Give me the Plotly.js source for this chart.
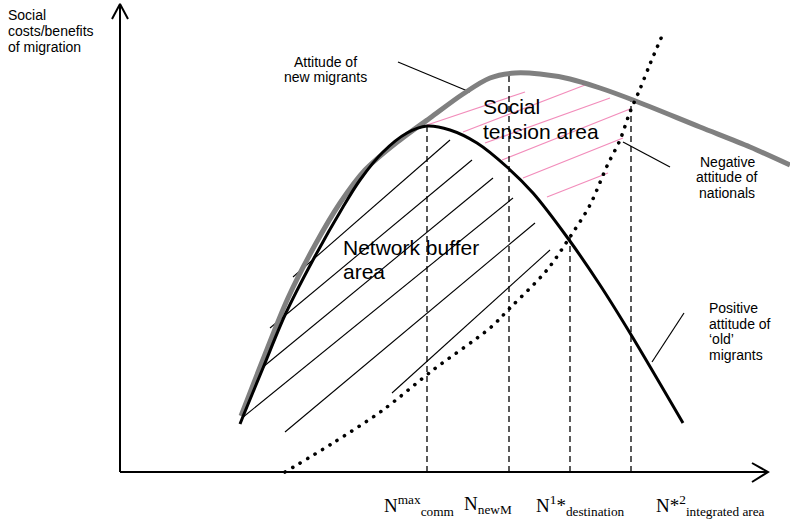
<!DOCTYPE html>
<html>
<head>
<meta charset="utf-8">
<script src="https://cdn.plot.ly/plotly-3.0.1.min.js"></script>
<style>
  html, body { margin: 0; padding: 0; background: #fff; }
  #chart { width: 790px; height: 526px; }
</style>
</head>
<body>
<div id="chart"></div>
<script>
// ---- Data (diagram units: x to the right of the origin, y above the origin) ----
// Attitude of new migrants (grey curve)
const newMigrantsX = [121, 142, 168, 195, 220, 245, 280, 310, 343, 370, 395, 420, 450, 480, 513, 580, 630, 670];
const newMigrantsY = [56, 110, 174, 227, 269, 302, 332, 354, 378, 394, 399, 398, 393, 384, 372, 345, 325, 307];

// Positive attitude of 'old' migrants (black curve)
const oldMigrantsX = [120, 124, 143, 165, 193, 223, 240, 263, 287, 307, 330, 357, 387, 413, 447, 480, 510, 563];
const oldMigrantsY = [48, 58, 104, 157, 212, 265, 292, 320, 339, 346, 342, 329, 305, 279, 235, 187, 139, 49];

// Negative attitude of nationals (dotted curve)
const nationalsX = [165, 213, 263, 313, 370, 390, 427, 450, 470, 487, 500, 510, 520, 530, 542];
const nationalsY = [0, 29, 62, 102, 144, 164, 202, 235, 267, 306, 332, 360, 383, 408, 436];

// Vertical reference lines (N^max_comm, N_newM, N1*_destination, N*2_integrated area)
const refX = [307, 389, 450, 511];
const refTop = [346, 399, 235, 372];

// Network buffer area hatching (black)
const bufferX0 = [173, 150, 143, 122, 165, 272];
const bufferY0 = [195, 144, 105, 54, 40, 79];
const bufferX1 = [330, 352, 373, 393, 415, 430];
const bufferY1 = [332, 312, 294, 274, 249, 222];

// Social tension area hatching (pink)
const tensionX0 = [307, 343, 365, 382, 403, 427];
const tensionY0 = [347, 340, 329, 312, 294, 275];
const tensionX1 = [405, 465, 490, 510, 503, 488];
const tensionY1 = [380, 387, 374, 363, 334, 299];

// Label leader lines
const leaderX0 = [278, 503, 532];
const leaderY0 = [410, 330, 110];
const leaderX1 = [350, 550, 564];
const leaderY1 = [380, 305, 159];

// Axes with open arrow heads
const yAxisX = [0, 0];
const yAxisY = [0, 468];
const yArrowX = [-8, 0, 8];
const yArrowY = [453, 468, 453];
const xAxisX = [0, 648];
const xAxisY = [0, 0];
const xArrowX = [632, 648, 632];
const xArrowY = [9, 0, -10];

// Text
const xTickLabels = ['N<sup>max</sup><sub>comm</sub>', 'N<sub>newM</sub>', 'N<sup>1</sup>*<sub>destination</sub>', 'N*<sup>2</sup><sub>integrated area</sub>'];
const xTickPos = [299, 368, 460, 590];
const yTitleLines = ['Social', 'costs/benefits', 'of migration'];

// ---- helpers ----
function segments(x0, y0, x1, y1) {
  const xs = [], ys = [];
  for (let i = 0; i < x0.length; i++) {
    xs.push(x0[i], x1[i], null);
    ys.push(y0[i], y1[i], null);
  }
  return { x: xs, y: ys };
}
function verticals(xv, top) {
  const xs = [], ys = [];
  for (let i = 0; i < xv.length; i++) {
    xs.push(xv[i], xv[i], null);
    ys.push(0, top[i], null);
  }
  return { x: xs, y: ys };
}

const buf = segments(bufferX0, bufferY0, bufferX1, bufferY1);
const ten = segments(tensionX0, tensionY0, tensionX1, tensionY1);
const lead = segments(leaderX0, leaderY0, leaderX1, leaderY1);
const vert = verticals(refX, refTop);

const base = { type: 'scatter', mode: 'lines', hoverinfo: 'skip', showlegend: false };
const traces = [
  Object.assign({}, base, { x: buf.x, y: buf.y, line: { color: '#000', width: 1.1 } }),
  Object.assign({}, base, { x: ten.x, y: ten.y, line: { color: '#f28dbb', width: 1.2 } }),
  Object.assign({}, base, { x: vert.x, y: vert.y, line: { color: '#000', width: 1.3, dash: '6px,4px' } }),
  Object.assign({}, base, { x: lead.x, y: lead.y, line: { color: '#000', width: 1.2 } }),
  Object.assign({}, base, { x: newMigrantsX, y: newMigrantsY, line: { color: '#808080', width: 5, shape: 'spline', smoothing: 0.9 } }),
  Object.assign({}, base, { x: oldMigrantsX, y: oldMigrantsY, line: { color: '#000', width: 3, shape: 'spline', smoothing: 0.9 } }),
  Object.assign({}, base, { x: nationalsX, y: nationalsY, line: { color: '#000', width: 3.6, dash: '0.1px,8.6px', shape: 'spline', smoothing: 0.9 } }),
  Object.assign({}, base, { x: yAxisX, y: yAxisY, line: { color: '#000', width: 2 } }),
  Object.assign({}, base, { x: yArrowX, y: yArrowY, line: { color: '#000', width: 2 } }),
  Object.assign({}, base, { x: xAxisX, y: xAxisY, line: { color: '#000', width: 2 } }),
  Object.assign({}, base, { x: xArrowX, y: xArrowY, line: { color: '#000', width: 2 } })
];
const DOTTED_INDEX = 6;

const sans = 'Liberation Sans, Arial, sans-serif';
const serif = 'Liberation Serif, Times New Roman, serif';
function ann(text, x, y, size, xanchor, family) {
  return { text: text, x: x, y: y, xref: 'x', yref: 'y', showarrow: false,
           xanchor: xanchor, yanchor: 'middle', align: xanchor === 'left' ? 'left' : 'center',
           font: { family: family || sans, size: size, color: '#000' } };
}

const annotations = [];
// y-axis title (three lines)
const yTitleY = [457, 441, 425];
yTitleLines.forEach((t, i) => annotations.push(ann(t, -114, yTitleY[i], 14, 'left')));
// Attitude of new migrants
annotations.push(ann('Attitude of', 205, 410, 14, 'center'));
annotations.push(ann('new migrants', 205, 395, 14, 'center'));
// Negative attitude of nationals
annotations.push(ann('Negative', 607, 310, 14, 'center'));
annotations.push(ann('attitude of', 607, 295, 14, 'center'));
annotations.push(ann('nationals', 607, 279, 14, 'center'));
// Positive attitude of 'old' migrants
annotations.push(ann('Positive', 587, 164, 14, 'left'));
annotations.push(ann('attitude of', 587, 148, 14, 'left'));
annotations.push(ann('\u2018old\u2019', 587, 133, 14, 'left'));
annotations.push(ann('migrants', 587, 117, 14, 'left'));
// Area labels
annotations.push(ann('Social', 361, 366, 21, 'left'));
annotations.push(ann('tension area', 361, 341, 21, 'left'));
annotations.push(ann('Network buffer', 221, 225, 21, 'left'));
annotations.push(ann('area', 221, 201, 21, 'left'));
// x labels
xTickLabels.forEach((t, i) => annotations.push(ann(t, xTickPos[i], -33, 19, 'center', serif)));

const layout = {
  width: 790, height: 526,
  margin: { l: 0, r: 0, t: 0, b: 0, pad: 0 },
  paper_bgcolor: '#fff', plot_bgcolor: '#fff',
  xaxis: { range: [-120, 670], visible: false, fixedrange: true },
  yaxis: { range: [-54, 472], visible: false, fixedrange: true },
  showlegend: false,
  annotations: annotations
};

Plotly.newPlot('chart', traces, layout, { staticPlot: true, displayModeBar: false }).then(function (gd) {
  const tr = gd.querySelectorAll('.scatterlayer .trace');
  if (tr[DOTTED_INDEX]) {
    tr[DOTTED_INDEX].querySelectorAll('path.js-line').forEach(function (p) {
      p.style.strokeLinecap = 'round';
    });
  }
});
</script>
</body>
</html>
